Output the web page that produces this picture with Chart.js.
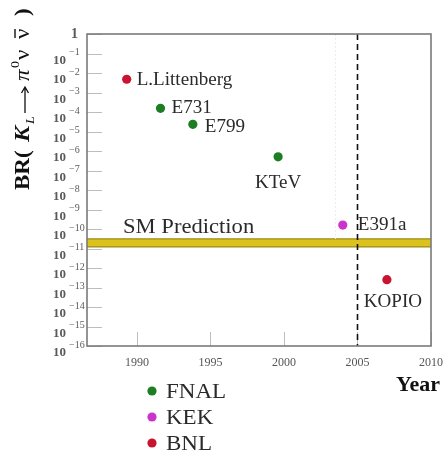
<!DOCTYPE html>
<html>
<head>
<meta charset="utf-8">
<script src="https://cdn.jsdelivr.net/npm/chart.js@4/dist/chart.umd.min.js"></script>
<style>
  html, body { margin: 0; padding: 0; background: #fff; }
  #wrap { width: 446px; height: 462px; }
</style>
</head>
<body>
<div id="wrap"><canvas id="c" width="446" height="462"></canvas></div>
<script>
// Laboratories and their marker colours
const labs = ['FNAL', 'KEK', 'BNL'];
const labColors = ['#1c7d22', '#cc33cc', '#c81430'];

// Experiments: name, lab, year, log10 of the branching-ratio limit / goal
const experiments = ['L.Littenberg', 'E731', 'E799', 'KTeV', 'E391a', 'KOPIO'];
const expLab = ['BNL', 'FNAL', 'FNAL', 'FNAL', 'KEK', 'BNL'];
const expYear = [1989.3, 1991.6, 1993.8, 1999.6, 2004.0, 2007.0];
const expLog10BR = [-2.32, -3.81, -4.63, -6.30, -9.80, -12.60];

// Standard Model prediction band (log10 BR)
const smBandLog10 = [-10.92, -10.51];

// Axes
const xRange = [1986.6, 2010];
const xTicks = [1990, 1995, 2000, 2005, 2010];
const yDecades = [0, -1, -2, -3, -4, -5, -6, -7, -8, -9, -10, -11, -12, -13, -14, -15, -16];
const markerYear = 2005;

const SERIF = '"Liberation Serif", "DejaVu Serif", serif';

const datasets = labs.map((lab, i) => ({
  label: lab,
  data: experiments
    .map((name, k) => ({ x: expYear[k], y: Math.pow(10, expLog10BR[k]), name, lab: expLab[k] }))
    .filter(p => p.lab === lab),
  backgroundColor: labColors[i],
  borderColor: labColors[i],
  pointRadius: 4.6,
  pointBorderWidth: 0
}));

// label placement relative to each marker
const labelPlacement = {
  'L.Littenberg': { dx: 10, dy: 1, align: 'left' },
  'E731': { dx: 11, dy: 0, align: 'left' },
  'E799': { dx: 12, dy: 3, align: 'left' },
  'KTeV': { dx: 0, dy: 26, align: 'center' },
  'E391a': { dx: 15, dy: 0, align: 'left' },
  'KOPIO': { dx: 6, dy: 23, align: 'center' }
};

// text drawn slightly widened, as in the original typesetting
function wideText(ctx, txt, px, py, sx, align) {
  const w = ctx.measureText(txt).width * sx;
  let ox = px;
  if (align === 'center') ox = px - w / 2;
  else if (align === 'right') ox = px - w;
  ctx.save();
  ctx.textAlign = 'left';
  ctx.translate(ox, py);
  ctx.scale(sx, 1);
  ctx.fillText(txt, 0, 0);
  ctx.restore();
}

const decorations = {
  id: 'decorations',
  beforeDatasetsDraw(chart) {
    const { ctx, chartArea: a, scales: { x, y } } = chart;
    ctx.save();

    // SM band
    const yTop = y.getPixelForValue(Math.pow(10, smBandLog10[1]));
    const yBot = y.getPixelForValue(Math.pow(10, smBandLog10[0]));
    ctx.fillStyle = '#dcc21c';
    ctx.fillRect(a.left, yTop, a.right - a.left, yBot - yTop);
    ctx.strokeStyle = '#9c8a1a';
    ctx.lineWidth = 1.2;
    ctx.beginPath();
    ctx.moveTo(a.left, yTop); ctx.lineTo(a.right, yTop);
    ctx.moveTo(a.left, yBot); ctx.lineTo(a.right, yBot);
    ctx.stroke();

    // faint guide near 2003.5
    const gx = Math.round(x.getPixelForValue(2003.5)) + 0.5;
    ctx.strokeStyle = '#ececec';
    ctx.lineWidth = 1;
    ctx.setLineDash([2, 2]);
    ctx.beginPath();
    ctx.moveTo(gx, a.top); ctx.lineTo(gx, yTop);
    ctx.stroke();
    ctx.setLineDash([]);

    // inner tick marks
    ctx.strokeStyle = '#bdbdbd';
    ctx.lineWidth = 1;
    ctx.beginPath();
    yDecades.forEach(d => {
      const py = Math.round(y.getPixelForValue(Math.pow(10, d))) + 0.5;
      ctx.moveTo(a.left, py); ctx.lineTo(a.left + 15, py);
    });
    xTicks.forEach(t => {
      const px = Math.round(x.getPixelForValue(t)) + 0.5;
      ctx.moveTo(px, a.bottom); ctx.lineTo(px, a.bottom - 14);
    });
    ctx.stroke();

    // dashed marker line
    const mx = x.getPixelForValue(markerYear);
    ctx.strokeStyle = '#111';
    ctx.lineWidth = 1.6;
    ctx.setLineDash([6, 4]);
    ctx.beginPath();
    ctx.moveTo(mx, a.top); ctx.lineTo(mx, a.bottom);
    ctx.stroke();
    ctx.setLineDash([]);

    // frame
    ctx.strokeStyle = '#7a7a7a';
    ctx.lineWidth = 1.6;
    ctx.strokeRect(a.left, a.top, a.right - a.left, a.bottom - a.top);
    ctx.restore();
  },
  afterDraw(chart) {
    const { ctx, chartArea: a, scales: { x, y } } = chart;
    ctx.save();

    // y tick labels: 10^n
    ctx.fillStyle = '#5a5a5a';
    yDecades.forEach(d => {
      const py = y.getPixelForValue(Math.pow(10, d));
      ctx.textBaseline = 'middle';
      if (d === 0) {
        ctx.font = 'bold 14px ' + SERIF;
        ctx.textAlign = 'left';
        ctx.fillText('1', 71, py);
        return;
      }
      ctx.font = 'bold 13px ' + SERIF;
      ctx.textAlign = 'right';
      ctx.fillText('10', 66, py + 7);
      ctx.font = '10px ' + SERIF;
      ctx.textAlign = 'left';
      ctx.fillText(String(d).replace('-', '\u2212'), 69, py - 1);
    });

    // x tick labels
    ctx.font = '12px ' + SERIF;
    ctx.textAlign = 'center';
    ctx.textBaseline = 'middle';
    ctx.fillStyle = '#555';
    xTicks.forEach(t => ctx.fillText(String(t), x.getPixelForValue(t), 363));

    // experiment labels
    ctx.font = '18px ' + SERIF;
    ctx.fillStyle = '#2a2a2a';
    ctx.textBaseline = 'middle';
    chart.data.datasets.forEach(ds => ds.data.forEach(p => {
      const pl = labelPlacement[p.name];
      wideText(ctx, p.name, x.getPixelForValue(p.x) + pl.dx, y.getPixelForValue(p.y) + pl.dy, 1.06, pl.align);
    }));

    // SM prediction caption
    ctx.font = '20px ' + SERIF;
    wideText(ctx, 'SM Prediction', 123, 228, 1.13, 'left');

    // axis title: Year
    ctx.font = 'bold 22px ' + SERIF;
    ctx.fillStyle = '#111';
    ctx.textAlign = 'center';
    ctx.fillText('Year', 418, 385);

    // axis title: BR(K_L -> pi0 nu nubar), rotated
    ctx.translate(24, 190);
    ctx.rotate(-Math.PI / 2);
    ctx.textBaseline = 'middle';
    ctx.fillStyle = '#111';
    ctx.strokeStyle = '#111';
    const put = (txt, font, pos, dy) => {
      ctx.font = font;
      wideText(ctx, txt, pos, dy || 0, 1.15, 'left');
    };
    put('BR(', 'bold 20px ' + SERIF, 0);
    put('K', 'bold italic 21px ' + SERIF, 48);
    put('L', 'italic 12px ' + SERIF, 66, 7);
    // long arrow
    ctx.lineWidth = 1.3;
    ctx.beginPath();
    ctx.moveTo(77, 1); ctx.lineTo(102, 1);
    ctx.moveTo(97, -2.5); ctx.lineTo(103, 1); ctx.lineTo(97, 4.5);
    ctx.stroke();
    put('\u03c0', 'italic 20px ' + SERIF, 109);
    put('0', '12px ' + SERIF, 122, -8);
    put('\u03bd', '20px ' + SERIF, 130);
    put('\u03bd', '20px ' + SERIF, 151);
    ctx.lineWidth = 1.4;
    ctx.beginPath();
    ctx.moveTo(152, -9); ctx.lineTo(161, -9);
    ctx.stroke();
    put(')', 'bold 20px ' + SERIF, 174);
    ctx.setTransform(1, 0, 0, 1, 0, 0);

    // legend
    const legY = [393, 419, 445];
    labs.forEach((lab, i) => {
      ctx.fillStyle = labColors[i];
      ctx.beginPath();
      ctx.arc(152, legY[i] - 2, 4.6, 0, Math.PI * 2);
      ctx.fill();
      ctx.fillStyle = '#2a2a2a';
      ctx.font = '20px ' + SERIF;
      ctx.textBaseline = 'middle';
      wideText(ctx, lab, 166, legY[i], 1.15, 'left');
    });
    ctx.restore();
  }
};

new Chart(document.getElementById('c'), {
  type: 'scatter',
  data: { datasets },
  options: {
    responsive: false,
    animation: false,
    layout: { padding: { left: 87, top: 34, right: 15, bottom: 116 } },
    scales: {
      x: { type: 'linear', min: xRange[0], max: xRange[1], display: false },
      y: { type: 'logarithmic', min: 1e-16, max: 1, display: false }
    },
    plugins: { legend: { display: false }, tooltip: { enabled: false } }
  },
  plugins: [decorations]
});
</script>
</body>
</html>
